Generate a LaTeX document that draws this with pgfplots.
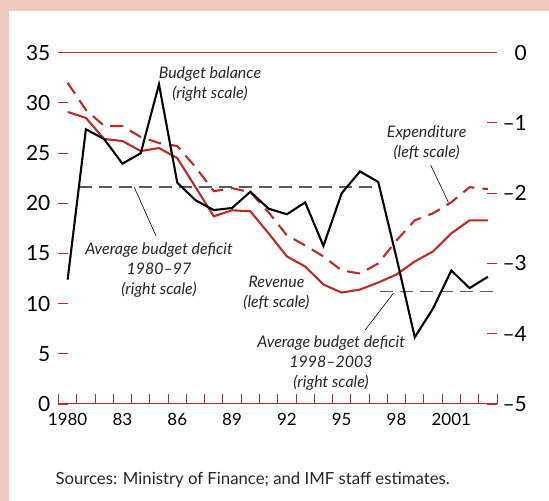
\documentclass[border=0pt]{standalone}
\usepackage{fontspec}
\setmainfont{Lato}
\usepackage{pgfplots}
\pgfplotsset{compat=1.18}
\definecolor{imfred}{RGB}{190,42,36}
\definecolor{bgpink}{RGB}{240,202,190}
\definecolor{avggray}{RGB}{90,90,90}

\pgfplotsset{
  twin/.style={at={(58.5bp,97bp)}, anchor=south west, scale only axis,
    width=438.5bp, height=351.3bp, xmin=1979.5, xmax=2003.5,
    axis line style={draw=none},
    tick align=inside, major tick length=10bp,
    tick style={imfred, line width=1pt}},
}
\tikzset{note/.style={font=\fontsize{16}{20}\selectfont\itshape, align=center, text=black!85}}

\begin{document}
\begin{tikzpicture}
\path[use as bounding box, fill=bgpink] (0,0) rectangle (549bp,501bp);
\fill[white] (9bp,0) rectangle (549bp,490bp);

% left scale: revenue and expenditure
\begin{axis}[twin, ymin=0, ymax=35,
  xtick={1979.5,1980.5,...,2003.5}, xticklabels={}, xtick pos=left,
  extra x ticks={1980,1983,...,2001}, extra x tick labels={1980,83,86,89,92,95,98,2001},
  extra x tick style={major tick length=0pt},
  ytick={0,5,...,35}, ytick pos=left,
  xticklabel style={font=\fontsize{17}{17}\selectfont, inner sep=0pt, yshift=-9bp},
  yticklabel style={font=\fontsize{21}{21}\selectfont, inner sep=0pt, xshift=-8bp},
  /pgf/number format/assume math mode=true]
\draw[imfred, line width=1.1pt] (rel axis cs:0,0) -- (rel axis cs:1,0);
\draw[imfred, line width=1.1pt] (rel axis cs:0,1) -- (rel axis cs:1,1);
\addplot[imfred, line width=2.1pt] coordinates {
  (1980,29.1)(1981,28.5)(1982,26.4)(1983,26.2)(1984,25.2)(1985,25.5)(1986,24.5)(1987,21.6)
  (1988,18.7)(1989,19.3)(1990,19.2)(1991,17.0)(1992,14.7)(1993,13.7)(1994,11.9)(1995,11.1)
  (1996,11.4)(1997,12.1)(1998,12.9)(1999,14.2)(2000,15.2)(2001,17.0)(2002,18.3)(2003,18.3)};
\addplot[imfred, line width=2.1pt, dash pattern=on 13bp off 8bp] coordinates {
  (1980,32.0)(1981,29.3)(1982,27.7)(1983,27.7)(1984,26.6)(1985,26.0)(1986,25.7)(1987,23.6)
  (1988,21.2)(1989,21.5)(1990,21.1)(1991,19.1)(1992,16.8)(1993,15.8)(1994,14.7)(1995,13.3)
  (1996,13.0)(1997,14.0)(1998,16.3)(1999,18.3)(2000,19.0)(2001,20.1)(2002,21.6)(2003,21.4)};
\node[note] at (axis cs:1987.79,31.87) {Budget balance\\(right scale)};
\node[note] at (axis cs:1999.65,26.0) {Expenditure\\(left scale)};
\node[note] at (axis cs:1985.0,13.35) {Average budget deficit\\1980--97\\(right scale)};
\node[note] at (axis cs:1991.43,11.06) {Revenue\\(left scale)};
\node[note] at (axis cs:1994.42,4.08) {Average budget deficit\\1998--2003\\(right scale)};
\draw[black, line width=0.6pt] (axis cs:1999.87,23.8) -- (axis cs:2000.84,20.1);
\draw[black, line width=0.6pt] (axis cs:1983.65,21.58) -- (axis cs:1984.84,16.73);
\draw[black, line width=0.6pt] (axis cs:1997.83,11.03) -- (axis cs:1996.28,7.37);
\end{axis}

% right scale: budget balance
\begin{axis}[twin, ymin=-5, ymax=0,
  xtick=\empty, ytick={-5,-4,...,0}, yticklabels={–5,–4,–3,–2,–1,0}, ytick pos=right,
  yticklabel style={font=\fontsize{21}{21}\selectfont, anchor=east, inner sep=0pt, xshift=30bp}]
\addplot[avggray, line width=1.4pt, dash pattern=on 13bp off 7bp] coordinates {(1980.6,-1.91)(1997.0,-1.91)};
\addplot[avggray, line width=1.4pt, dash pattern=on 13bp off 7bp] coordinates {(1997.1,-3.40)(2003.5,-3.40)};
\addplot[black, line width=2.1pt] coordinates {
  (1980,-3.23)(1981,-1.09)(1982,-1.23)(1983,-1.58)(1984,-1.43)(1985,-0.45)(1986,-1.85)(1987,-2.10)
  (1988,-2.24)(1989,-2.21)(1990,-1.98)(1991,-2.22)(1992,-2.30)(1993,-2.13)(1994,-2.75)(1995,-2.00)
  (1996,-1.69)(1997,-1.84)(1998,-2.92)(1999,-4.05)(2000,-3.64)(2001,-3.10)(2002,-3.35)(2003,-3.19)};
\end{axis}

\node[anchor=base west, font=\fontsize{16.8}{17}\selectfont, text=black!85] at (52bp,17bp)
  {Sources: Ministry of Finance; and IMF staff estimates.};
\end{tikzpicture}
\end{document}
